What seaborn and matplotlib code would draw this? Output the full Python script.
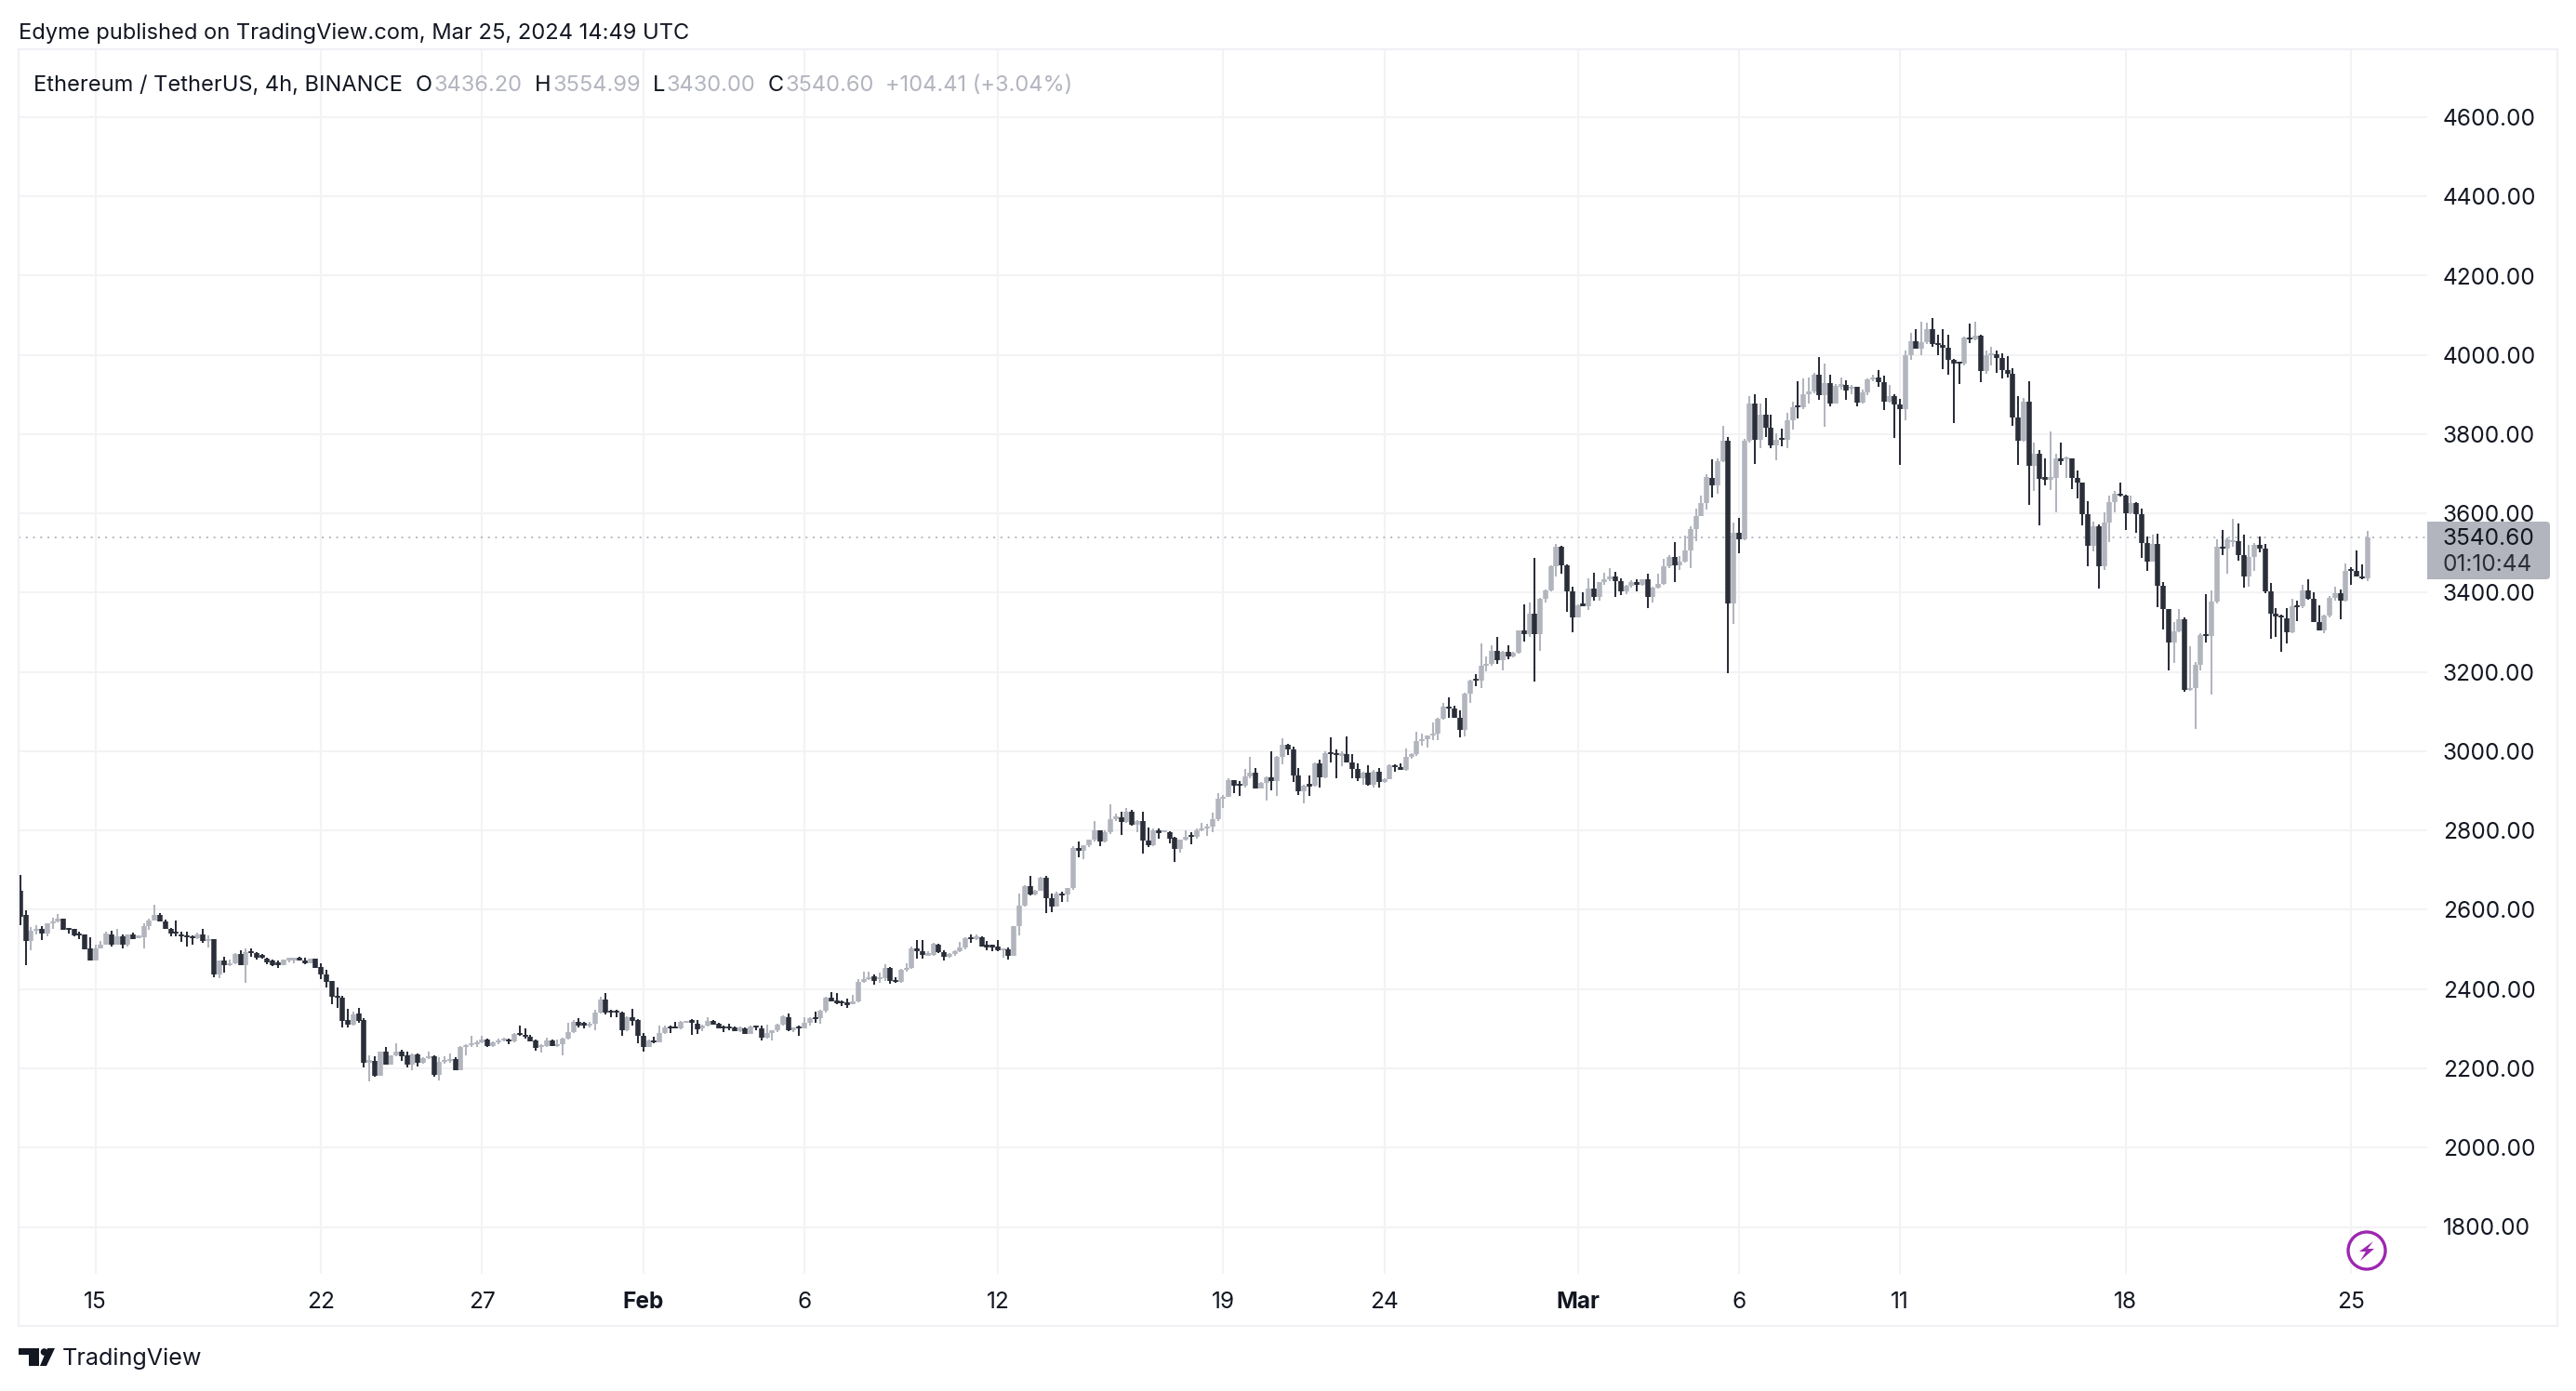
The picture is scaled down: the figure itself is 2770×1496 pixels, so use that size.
"""Ethereum / TetherUS 4h candles, TradingView snapshot look"""
import pandas as pd
import seaborn as sns
import matplotlib.dates as mdates
import matplotlib.pyplot as plt
from matplotlib.patches import Circle, FancyBboxPatch, Polygon, Rectangle

first_candle = '2024-01-12 16:00'

opens = [
    2647,2586,2521,2548,2551,2541,2565,2571,2578,2553,
    2551,2541,2538,2502,2471,2502,2513,2538,2513,2533,
    2511,2538,2531,2531,2560,2574,2588,2571,2553,2545,
    2539,2536,2532,2529,2539,2521,2525,2438,2471,2460,
    2464,2489,2461,2496,2492,2485,2478,2471,2467,2461,
    2474,2475,2477,2472,2466,2477,2456,2438,2420,2383,
    2378,2322,2311,2339,2323,2213,2218,2182,2242,2210,
    2232,2242,2232,2209,2235,2213,2226,2231,2184,2217,
    2220,2223,2196,2254,2259,2260,2265,2273,2257,2265,
    2271,2273,2267,2289,2284,2279,2270,2254,2257,2270,
    2257,2262,2275,2292,2317,2314,2309,2312,2340,2373,
    2345,2345,2340,2297,2328,2322,2282,2254,2271,2265,
    2289,2304,2306,2301,2317,2320,2312,2300,2307,2319,
    2313,2306,2306,2304,2295,2302,2287,2307,2301,2278,
    2288,2296,2311,2329,2297,2304,2302,2315,2329,2326,
    2345,2378,2372,2368,2364,2362,2369,2419,2425,2433,
    2425,2427,2453,2422,2419,2449,2453,2503,2496,2486,
    2486,2513,2494,2482,2489,2496,2505,2530,2527,2531,
    2510,2510,2507,2499,2500,2485,2558,2610,2660,2638,
    2649,2682,2629,2609,2641,2638,2654,2757,2748,2762,
    2776,2801,2772,2795,2828,2834,2822,2847,2814,2825,
    2775,2762,2801,2798,2797,2781,2753,2776,2788,2784,
    2801,2805,2811,2828,2881,2886,2927,2917,2914,2936,
    2946,2906,2921,2935,2925,2986,3016,3005,2939,2899,
    2916,2913,2969,2935,2996,2994,2991,2993,2972,2955,
    2931,2946,2916,2949,2922,2930,2964,2959,2953,2986,
    2994,3025,3031,3039,3044,3082,3113,3107,3085,3055,
    3146,3182,3179,3216,3220,3254,3229,3251,3240,3249,
    3304,3295,3348,3296,3384,3407,3467,3516,3469,3403,
    3339,3372,3367,3411,3389,3426,3434,3441,3430,3403,
    3417,3428,3420,3433,3390,3414,3423,3466,3491,3470,
    3478,3506,3561,3594,3627,3689,3670,3731,3783,3372,
    3552,3535,3784,3878,3787,3850,3816,3772,3789,3786,
    3836,3871,3868,3900,3907,3951,3899,3929,3878,3922,
    3924,3916,3919,3880,3905,3938,3944,3932,3883,3897,
    3875,3864,4000,4034,4016,4032,4065,4029,4026,4019,
    3987,3982,3979,4043,4040,4048,3960,3999,4002,3993,
    3961,3952,3842,3783,3882,3720,3751,3690,3687,3690,
    3740,3737,3740,3689,3678,3598,3519,3568,3468,3577,
    3628,3649,3645,3600,3627,3598,3525,3479,3522,3418,
    3358,3275,3302,3333,3155,3159,3218,3293,3292,3377,
    3515,3512,3528,3531,3496,3440,3490,3521,3511,3404,
    3347,3342,3336,3300,3368,3365,3405,3384,3327,3305,
    3343,3388,3398,3380,3459,3456,3442,3436.2,
]
highs = [
    2689,2598,2557,2562,2560,2566,2580,2590,2578,2555,
    2552,2546,2538,2531,2513,2521,2544,2547,2552,2538,
    2538,2542,2536,2566,2578,2613,2591,2576,2554,2574,
    2544,2546,2535,2542,2551,2535,2525,2473,2482,2474,
    2492,2499,2503,2503,2494,2489,2480,2474,2472,2475,
    2480,2478,2482,2480,2478,2477,2466,2449,2420,2403,
    2384,2351,2343,2353,2327,2232,2231,2243,2253,2234,
    2264,2246,2243,2237,2238,2228,2242,2232,2228,2231,
    2237,2229,2256,2262,2282,2271,2282,2275,2267,2275,
    2278,2275,2289,2307,2300,2284,2273,2262,2278,2273,
    2273,2278,2315,2322,2326,2317,2318,2347,2381,2391,
    2348,2347,2344,2331,2350,2325,2289,2273,2279,2309,
    2307,2307,2318,2320,2320,2325,2323,2311,2329,2323,
    2315,2309,2312,2306,2306,2304,2309,2309,2309,2311,
    2297,2312,2333,2339,2304,2307,2329,2328,2343,2347,
    2380,2392,2389,2372,2375,2386,2425,2444,2444,2436,
    2441,2463,2456,2431,2450,2464,2507,2524,2524,2496,
    2516,2514,2499,2491,2497,2518,2530,2538,2538,2532,
    2521,2513,2524,2503,2505,2560,2640,2663,2685,2651,
    2684,2685,2640,2645,2645,2656,2761,2773,2764,2778,
    2825,2801,2801,2867,2842,2847,2858,2853,2826,2848,
    2808,2805,2805,2800,2798,2783,2778,2801,2797,2806,
    2819,2816,2845,2895,2889,2932,2928,2924,2955,2985,
    2957,2922,2936,2999,2988,3033,3019,3011,2957,2916,
    2938,2971,2979,2999,3035,3005,3001,3037,2994,2969,
    2949,2964,2952,2957,2932,2968,2966,2969,3007,2995,
    3049,3045,3041,3072,3085,3122,3136,3114,3103,3147,
    3180,3194,3271,3240,3268,3289,3254,3268,3251,3306,
    3370,3376,3489,3386,3408,3469,3524,3519,3472,3416,
    3370,3400,3437,3451,3428,3451,3461,3453,3437,3419,
    3431,3433,3434,3447,3416,3448,3485,3494,3528,3492,
    3544,3568,3612,3644,3698,3737,3740,3820,3794,3577,
    3590,3789,3897,3900,3878,3891,3850,3802,3813,3853,
    3883,3933,3940,3944,3955,3994,3979,3949,3927,3943,
    3935,3925,3920,3913,3940,3949,3963,3947,3925,3900,
    3888,4010,4056,4065,4085,4081,4093,4052,4065,4052,
    3991,3982,4046,4079,4084,4052,4010,4020,4010,4005,
    3996,3966,3896,3891,3933,3778,3761,3740,3806,3750,
    3780,3744,3740,3709,3678,3632,3580,3573,3604,3646,
    3656,3678,3647,3644,3628,3612,3542,3547,3550,3426,
    3358,3326,3358,3338,3265,3225,3297,3396,3405,3536,
    3559,3539,3587,3575,3547,3520,3525,3542,3523,3424,
    3362,3344,3362,3384,3380,3421,3434,3401,3369,3344,
    3391,3415,3409,3473,3464,3507,3471,3554.99,
]
lows = [
    2561,2460,2497,2539,2523,2532,2552,2568,2549,2541,
    2533,2525,2500,2471,2471,2502,2513,2507,2513,2502,
    2507,2525,2529,2502,2549,2572,2571,2551,2533,2533,
    2518,2507,2511,2525,2516,2505,2431,2428,2442,2458,
    2463,2461,2415,2482,2475,2476,2463,2458,2454,2460,
    2467,2466,2472,2463,2464,2453,2425,2403,2362,2353,
    2304,2304,2309,2315,2203,2168,2179,2182,2209,2209,
    2231,2218,2202,2196,2204,2212,2223,2180,2170,2212,
    2213,2196,2196,2234,2253,2254,2264,2254,2254,2262,
    2268,2260,2265,2281,2275,2267,2245,2240,2253,2256,
    2254,2233,2273,2289,2303,2301,2304,2296,2339,2337,
    2328,2329,2281,2295,2309,2264,2242,2254,2264,2265,
    2287,2289,2300,2298,2315,2284,2287,2295,2306,2311,
    2300,2292,2297,2293,2292,2286,2286,2297,2270,2276,
    2270,2292,2309,2295,2292,2282,2300,2309,2315,2312,
    2340,2369,2362,2358,2353,2361,2367,2417,2422,2412,
    2417,2420,2414,2417,2416,2445,2452,2478,2478,2483,
    2485,2491,2471,2480,2484,2494,2500,2516,2524,2507,
    2498,2496,2496,2480,2474,2483,2536,2609,2637,2637,
    2648,2591,2594,2609,2620,2621,2651,2732,2728,2759,
    2772,2761,2770,2792,2825,2789,2820,2812,2797,2742,
    2759,2761,2779,2795,2767,2721,2745,2774,2765,2779,
    2798,2786,2795,2825,2858,2884,2894,2888,2908,2933,
    2905,2905,2875,2902,2888,2968,2991,2922,2889,2869,
    2888,2911,2908,2933,2972,2932,2963,2971,2933,2925,
    2916,2914,2908,2908,2921,2929,2948,2953,2951,2981,
    2989,3013,3009,3028,3028,3080,3085,3085,3036,3038,
    3121,3165,3160,3202,3216,3221,3204,3232,3238,3246,
    3278,3288,3177,3254,3375,3403,3442,3447,3351,3301,
    3339,3365,3356,3381,3381,3419,3430,3390,3394,3397,
    3412,3403,3417,3361,3376,3411,3420,3463,3426,3458,
    3477,3461,3530,3593,3610,3640,3651,3729,3198,3322,
    3499,3533,3780,3725,3764,3792,3764,3734,3769,3764,
    3811,3839,3863,3878,3903,3886,3819,3871,3877,3913,
    3886,3902,3871,3878,3899,3933,3919,3861,3880,3791,
    3722,3835,3988,4015,3999,4027,4021,3999,3965,3951,
    3828,3927,3974,4030,4037,3932,3952,3974,3955,3941,
    3943,3820,3723,3781,3621,3657,3570,3670,3659,3604,
    3722,3689,3662,3637,3570,3468,3504,3410,3458,3527,
    3602,3643,3558,3598,3551,3487,3454,3478,3363,3308,
    3203,3224,3300,3151,3153,3057,3205,3275,3142,3374,
    3495,3448,3515,3481,3413,3415,3454,3501,3398,3283,
    3289,3250,3271,3299,3329,3362,3382,3326,3305,3299,
    3338,3379,3333,3377,3421,3442,3434,3430,
]
closes = [
    2583,2521,2548,2551,2541,2565,2571,2578,2549,2549,
    2536,2536,2500,2471,2502,2513,2540,2513,2533,2511,
    2538,2527,2533,2560,2574,2588,2571,2551,2541,2541,
    2532,2532,2529,2539,2521,2525,2438,2471,2460,2464,
    2489,2461,2494,2492,2480,2480,2467,2461,2461,2474,
    2477,2476,2474,2466,2477,2453,2436,2419,2380,2380,
    2320,2311,2337,2320,2213,2220,2182,2242,2210,2232,
    2242,2231,2209,2235,2213,2226,2229,2184,2217,2220,
    2223,2196,2254,2259,2262,2265,2273,2257,2265,2271,
    2275,2267,2287,2286,2281,2268,2251,2259,2270,2257,
    2262,2275,2292,2318,2309,2309,2312,2340,2373,2340,
    2342,2342,2297,2329,2320,2281,2254,2270,2265,2289,
    2303,2301,2301,2317,2318,2317,2298,2307,2319,2311,
    2302,2302,2300,2295,2304,2287,2306,2304,2278,2288,
    2296,2311,2331,2297,2303,2302,2315,2327,2326,2345,
    2378,2370,2364,2364,2362,2369,2419,2425,2431,2420,
    2429,2453,2420,2419,2449,2453,2503,2496,2486,2489,
    2514,2493,2482,2489,2496,2505,2529,2527,2533,2507,
    2507,2507,2499,2502,2485,2558,2610,2660,2638,2649,
    2682,2629,2609,2640,2638,2654,2757,2748,2762,2776,
    2801,2772,2795,2828,2836,2822,2847,2814,2825,2775,
    2762,2801,2794,2799,2779,2753,2776,2784,2784,2801,
    2805,2811,2828,2881,2886,2927,2914,2914,2936,2946,
    2906,2921,2935,2925,2986,3016,3005,2939,2899,2914,
    2913,2969,2935,2996,2993,2991,2993,2972,2955,2931,
    2946,2916,2949,2922,2930,2964,2960,2953,2986,2994,
    3025,3031,3039,3044,3082,3113,3107,3085,3055,3146,
    3179,3179,3216,3220,3254,3229,3251,3240,3249,3304,
    3295,3348,3296,3384,3407,3467,3516,3469,3403,3339,
    3368,3367,3411,3389,3426,3434,3441,3430,3403,3417,
    3428,3420,3433,3390,3414,3423,3466,3491,3470,3478,
    3506,3561,3594,3627,3691,3670,3731,3783,3372,3552,
    3535,3784,3878,3787,3850,3816,3772,3787,3786,3836,
    3869,3868,3900,3907,3951,3899,3929,3878,3922,3924,
    3910,3919,3880,3905,3938,3944,3932,3883,3897,3875,
    3864,4000,4034,4016,4032,4065,4027,4026,4019,3987,
    3979,3979,4045,4040,4048,3960,3999,4005,3993,3961,
    3952,3842,3783,3882,3720,3751,3687,3687,3690,3740,
    3731,3740,3689,3678,3598,3519,3568,3468,3577,3628,
    3650,3645,3600,3627,3598,3525,3479,3522,3418,3358,
    3275,3302,3333,3155,3159,3218,3293,3292,3377,3515,
    3512,3536,3531,3496,3440,3490,3521,3511,3404,3347,
    3340,3338,3300,3366,3365,3405,3384,3327,3305,3343,
    3388,3398,3380,3456,3456,3442,3436,3540.6,
]

price_ticks = [1800, 2000, 2200, 2400, 2600, 2800, 3000, 3200, 3400, 3600, 3800, 4000, 4200, 4400, 4600]
date_ticks = ['2024-01-15', '2024-01-22', '2024-01-27', '2024-02-01', '2024-02-06', '2024-02-12',
              '2024-02-19', '2024-02-24', '2024-03-01', '2024-03-06', '2024-03-11', '2024-03-18', '2024-03-25']
date_labels = ['15', '22', '27', 'Feb', '6', '12', '19', '24', 'Mar', '6', '11', '18', '25']
last_price = 3540.60
countdown = '01:10:44'

UP = '#b2b5be'
DOWN = '#2a2e39'
GRID = '#f3f3f5'
FRAME = '#f0f0f5'
INK = '#131722'

sns.set_theme(style='white')
plt.rcParams['font.family'] = ['Inter', 'DejaVu Sans']

W, H = 2770, 1496
PLOT_L, PLOT_R, PLOT_T, PLOT_B = 20.4, 2610, 53, 1370
fig = plt.figure(figsize=(W / 100, H / 100), dpi=100, facecolor='white')
ax = fig.add_axes([PLOT_L / W, 1 - PLOT_B / H, (PLOT_R - PLOT_L) / W, (PLOT_B - PLOT_T) / H])

# candle table, wick and body as two rows per candle
times = mdates.date2num(pd.date_range(first_candle, periods=len(closes), freq='4h'))
candles = pd.DataFrame({'t': times, 'o': opens, 'h': highs, 'l': lows, 'c': closes})
candles['candle'] = candles.index
candles['side'] = ['up' if c >= o else 'down' for o, c in zip(opens, closes)]

wicks = candles.melt(id_vars=['candle', 't', 'side'], value_vars=['l', 'h'], value_name='price')
mid = (candles['o'] + candles['c']) / 2
half = ((candles['o'] - candles['c']).abs() / 2).clip(lower=2.6)  # thin bodies stay visible
bodies = candles[['candle', 't', 'side']].copy()
bodies = pd.concat([bodies.assign(price=mid - half), bodies.assign(price=mid + half)])

for table, width in ((wicks, 1.45), (bodies, 4.0)):
    sns.lineplot(data=table.sort_values(['candle', 'price']), x='t', y='price', units='candle',
                 estimator=None, hue='side', hue_order=['up', 'down'],
                 palette={'up': UP, 'down': DOWN}, sort=False, linewidth=width,
                 solid_capstyle='butt', legend=False, ax=ax, zorder=3)

# scales: 34.65 px per day, 0.42625 px per dollar
jan15 = mdates.date2num(pd.Timestamp('2024-01-15'))
ax.set_xlim(jan15 - (102.7 - PLOT_L) / 34.65, jan15 + (PLOT_R - 102.7) / 34.65)
ax.set_ylim(2200 - (PLOT_B - 1149) / 0.42625, 2200 + (1149 - PLOT_T) / 0.42625)

ax.yaxis.tick_right()
ax.set_yticks(price_ticks)
ax.set_yticklabels([f'{p:.2f}' for p in price_ticks], fontsize=17.6, color=INK)
ax.set_xticks(mdates.date2num(pd.to_datetime(date_ticks)))
ax.set_xticklabels(date_labels, fontsize=17.6, color=INK)
for lab, txt in zip(ax.get_xticklabels(), date_labels):
    if txt in ('Feb', 'Mar'):
        lab.set_fontweight('bold')
ax.tick_params(axis='y', length=0, pad=12)
ax.tick_params(axis='x', length=0, pad=14)
ax.set_xlabel('')
ax.set_ylabel('')
ax.grid(True, color=GRID, linewidth=1.45, zorder=0)
ax.set_axisbelow(True)
sns.despine(ax=ax, left=True, bottom=True, right=True, top=True)

ax.axhline(last_price, color=UP, linewidth=1.3, linestyle=(0, (1.1, 3.2)), zorder=2)

# page furniture in pixel coordinates
ui = fig.add_axes([0, 0, 1, 1], facecolor='none')
ui.set_xlim(0, W)
ui.set_ylim(H, 0)
ui.axis('off')
ui.add_patch(Rectangle((20, 53), 2730, 1372.5, fill=False, edgecolor=FRAME, linewidth=1.5))

ui.text(20, 36, 'Edyme published on TradingView.com, Mar 25, 2024 14:49 UTC', fontsize=17.05,
        color=INK, va='center', ha='left')

legend_y = 91.5
ui.text(36, legend_y, 'Ethereum / TetherUS, 4h, BINANCE', fontsize=17, color=INK, va='center')
for letter, lx, value, vx in (('O', 447, '3436.20', 467), ('H', 575, '3554.99', 595),
                              ('L', 702, '3430.00', 717), ('C', 826, '3540.60', 845)):
    ui.text(lx, legend_y, letter, fontsize=17, color=INK, va='center')
    ui.text(vx, legend_y, value, fontsize=17, color=UP, va='center')
ui.text(952, legend_y, '+104.41 (+3.04%)', fontsize=17, color=UP, va='center')

# last price tag
ui.add_patch(FancyBboxPatch((2612, 563), 128, 58, boxstyle='round,pad=2,rounding_size=4',
                            facecolor=UP, edgecolor='none'))
ui.add_patch(Rectangle((2610, 561), 10, 62, facecolor=UP, edgecolor='none'))
ui.text(2626, 579.5, f'{last_price:.2f}', fontsize=17.6, color=INK, va='center')
ui.text(2626, 607.5, countdown, fontsize=17.6, color=INK, alpha=0.85, va='center')

# purple lightning badge
PURPLE = '#9c27b0'
ui.add_patch(Circle((2545, 1345), 20, fill=True, facecolor='white', edgecolor=PURPLE, linewidth=2.4, zorder=5))
ui.add_patch(Polygon([(2552, 1335), (2537, 1346), (2544, 1346), (2538, 1356), (2553, 1343), (2546, 1343)],
                     closed=True, facecolor=PURPLE, edgecolor='none', zorder=6))

# TradingView logo
ui.add_patch(Polygon([(20, 1450), (42, 1450), (42, 1469), (31, 1469), (31, 1457), (20, 1457)],
                     closed=True, facecolor=INK, edgecolor='none'))
ui.add_patch(Circle((47.5, 1454), 3.8, facecolor=INK, edgecolor='none'))
ui.add_patch(Polygon([(51, 1450), (59, 1450), (50, 1469), (43, 1469)], closed=True,
                     facecolor=INK, edgecolor='none'))
ui.text(67, 1461, 'TradingView', fontsize=18.1, color=INK, va='center', ha='left')

fig.savefig('out.png', dpi=100, facecolor='white')
plt.close(fig)
